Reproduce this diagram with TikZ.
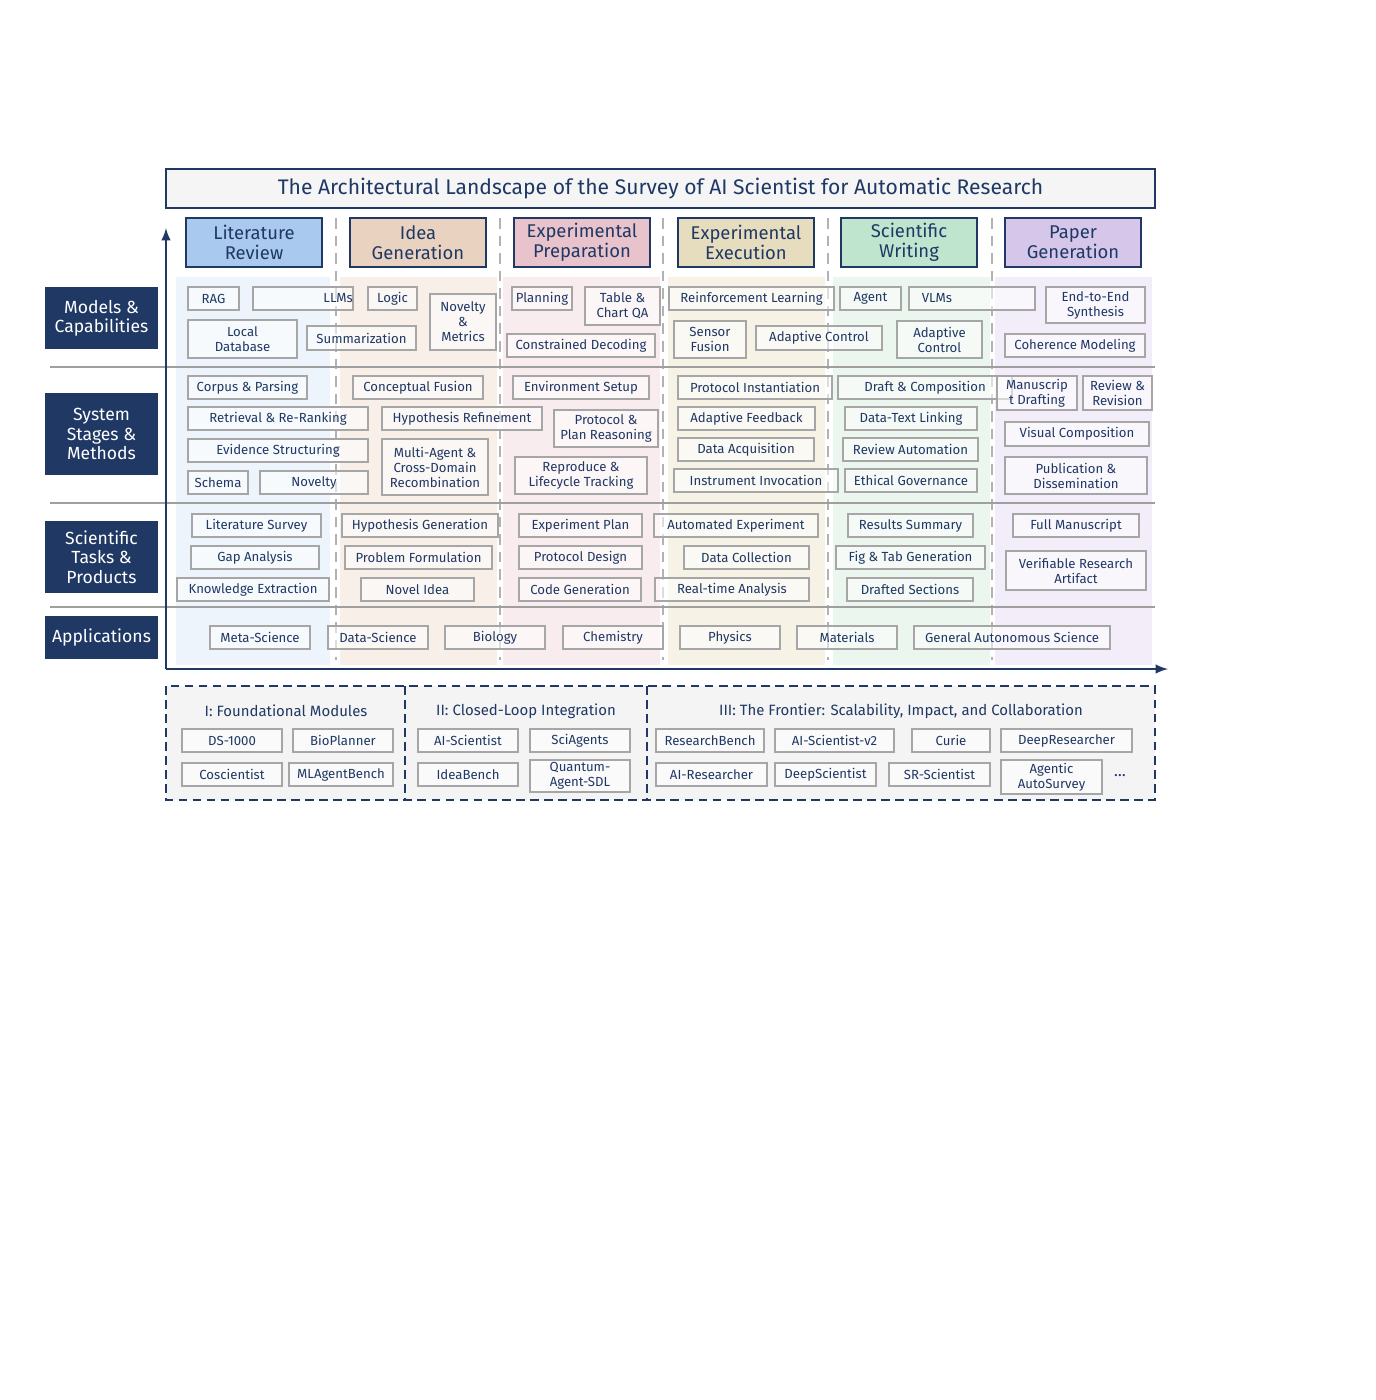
\documentclass[tikz,border=0pt]{standalone}
\usepackage{fontspec}
\setmainfont{Fira Sans}
\definecolor{navy}{HTML}{1F3864}
\definecolor{hdLR}{HTML}{A9C9EE}
\definecolor{hdIG}{HTML}{E9D2BF}
\definecolor{hdEP}{HTML}{E9C3CB}
\definecolor{hdEE}{HTML}{E6DDBE}
\definecolor{hdSW}{HTML}{BFE5CF}
\definecolor{hdPG}{HTML}{D6C7EA}
\definecolor{bgLR}{HTML}{EEF4FB}
\definecolor{bgIG}{HTML}{F8EFE9}
\definecolor{bgEP}{HTML}{F9ECEF}
\definecolor{bgEE}{HTML}{F6F2E6}
\definecolor{bgSW}{HTML}{EBF6EF}
\definecolor{bgPG}{HTML}{F2EDF9}
\tikzset{
  box/.style={draw=gray!70, line width=0.8pt, fill=white, fill opacity=0.55, text opacity=1,
    text=navy, inner sep=0pt, align=center, font=\fontsize{7.5}{8.5}\selectfont},
  head/.style={draw=navy, line width=1.2pt, text=navy, inner sep=0pt, align=center,
    font=\fontsize{10.5}{11.5}\selectfont},
  rowlab/.style={fill=navy, text=white, inner sep=0pt, align=center,
    font=\fontsize{10}{11}\selectfont},
  sep/.style={gray!60, line width=1.6pt, dash pattern=on 6pt off 4pt},
  rule/.style={gray!75, line width=1.6pt},
}
\begin{document}
\begin{tikzpicture}[x=0.02cm, y=-0.02cm]
\useasboundingbox (0,0) rectangle (1376,1400);
% column backgrounds
\foreach \xa/\xb/\c in {176/330/bgLR,340/497/bgIG,503/660/bgEP,668/825/bgEE,833/990/bgSW,995/1152/bgPG}
  \fill[\c] (\xa,277) rectangle (\xb,665);
% title
\node[draw=navy, line width=1.2pt, fill=gray!8, text=navy, minimum width=19.78cm, minimum height=0.78cm,
  font=\fontsize{12}{13}\selectfont] (title) at (660.5,188.5) {The Architectural Landscape of the Survey of AI Scientist for Automatic Research};
% stage headers
\foreach \xa/\c/\t [count=\i] in {186/hdLR/{Literature\\Review},350/hdIG/{Idea\\Generation},514/hdEP/{Experimental\\Preparation},
  678/hdEE/{Experimental\\Execution},841/hdSW/{Scientific\\Writing},1005/hdPG/{Paper\\Generation}}
  \node[head, fill=\c, minimum width=2.72cm, minimum height=0.98cm] (h\i) at (\xa+68,242.5) {\t};
% separators
\foreach \x in {336,500,663,828,992}
  \draw[sep] (\x,218) -- (\x,660);
\foreach \y in {367,503,607}
  \draw[rule] (50,\y) -- (1155,\y);
% axes
\draw[navy, line width=1.4pt, -latex] (166,669) -- (166,228);
\draw[navy, line width=1.4pt, -latex] (166,669) -- (1168,669);
% row labels
\node[rowlab, minimum width=2.26cm, minimum height=1.24cm] (r1) at (101.5,318) {Models \&\\Capabilities};
\node[rowlab, minimum width=2.26cm, minimum height=1.64cm] (r2) at (101.5,434) {System\\Stages \&\\Methods};
\node[rowlab, minimum width=2.26cm, minimum height=1.44cm] (r3) at (101.5,557) {Scientific\\Tasks \&\\Products};
\node[rowlab, minimum width=2.26cm, minimum height=0.86cm] (r4) at (101.5,637.5) {Applications};
% bottom panel
\draw[navy, line width=1.2pt, dash pattern=on 5pt off 3pt, fill=gray!9] (166,686) rectangle (1155,800);
\foreach \x in {405,647}
  \draw[navy, line width=1.2pt, dash pattern=on 5pt off 3pt] (\x,686) -- (\x,800);
\node[text=navy, font=\fontsize{8.5}{9.5}\selectfont] (s1) at (286,711) {I: Foundational Modules};
\node[text=navy, font=\fontsize{8.5}{9.5}\selectfont] (s2) at (526,711) {II: Closed-Loop Integration};
\node[text=navy, font=\fontsize{8.5}{9.5}\selectfont] (s3) at (901,711) {III: The Frontier: Scalability, Impact, and Collaboration};
\node[text=navy, font=\fontsize{9}{10}\selectfont] (more) at (1120,776) {\dots};
% boxes: x1/y1/x2/y2/text
\foreach \xa/\ya/\xb/\yb/\t [count=\i] in {
  188/287/239/310/RAG, 254/287/352/310/{\hspace*{40pt}LLMs}, 368/287/417/310/Logic, 430/294/496/350/{Novelty\\\&\\Metrics},
  512/287/572/310/Planning, 585/287/660/325/{Table \&\\Chart QA}, 188/320/297/358/{Local\\Database},
  307/326/416/350/Summarization, 507/334/655/357/{Constrained Decoding}, 669/287/834/310/{Reinforcement Learning},
  674/321/746/358/{Sensor\\Fusion}, 756/326/882/350/{Adaptive Control}, 840/287/901/310/Agent,
  909/287/1035/310/{\hspace*{0pt}VLMs\hspace*{40pt}}, 897/321/982/358/{Adaptive\\Control},
  1046/287/1145/323/{End-to-End\\Synthesis}, 1005/334/1145/357/{Coherence Modeling},
  188/376/307/399/{Corpus \& Parsing}, 353/376/483/399/{Conceptual Fusion}, 513/376/649/399/{Environment Setup},
  678/376/832/399/{Protocol Instantiation}, 838/376/1012/399/{Draft \& Composition},
  997/376/1077/410/{Manuscrip\\t Drafting}, 1083/376/1152/410/{Review \&\\Revision},
  188/407/368/430/{Retrieval \& Re-Ranking}, 382/407/542/430/{Hypothesis Refinement},
  554/410/658/447/{Protocol \&\\Plan Reasoning}, 678/407/815/430/{Adaptive Feedback},
  845/407/977/430/{Data-Text Linking}, 1005/422/1149/446/{Visual Composition},
  188/439/368/462/{Evidence Structuring}, 382/439/488/495/{Multi-Agent \&\\Cross-Domain\\Recombination},
  678/438/814/461/{Data Acquisition}, 843/438/978/461/{Review Automation},
  1005/457/1147/494/{Publication \&\\Dissemination}, 188/471/248/494/Schema, 260/471/368/494/Novelty,
  515/457/647/494/{Reproduce \&\\Lifecycle Tracking}, 674/469/838/492/{Instrument Invocation},
  845/469/977/492/{Ethical Governance},
  192/514/321/537/{Literature Survey}, 342/514/498/537/{Hypothesis Generation}, 519/514/642/537/{Experiment Plan},
  654/514/818/537/{Automated Experiment}, 848/514/973/537/{Results Summary}, 1013/514/1139/537/{Full Manuscript},
  191/546/319/569/{Gap Analysis}, 345/546/492/569/{Problem Formulation}, 519/546/642/569/{Protocol Design},
  684/546/809/569/{Data Collection}, 836/546/985/569/{Fig \& Tab Generation},
  1006/551/1146/590/{Verifiable Research\\Artifact}, 177/578/329/601/{Knowledge Extraction},
  361/578/474/601/{Novel Idea}, 519/578/641/601/{Code Generation}, 655/578/809/601/{Real-time Analysis},
  847/578/973/601/{Drafted Sections},
  210/626/310/649/Meta-Science, 328/626/428/649/Data-Science, 445/626/545/649/Biology,
  563/626/663/649/Chemistry, 680/626/780/649/Physics, 797/626/897/649/Materials,
  914/626/1110/649/{General Autonomous Science},
  182/729/282/752/DS-1000, 293/729/393/752/BioPlanner, 418/729/518/752/AI-Scientist, 530/729/630/752/SciAgents,
  656/729/764/752/ResearchBench, 775/729/894/752/AI-Scientist-v2, 912/729/990/752/Curie,
  1001/729/1132/752/DeepResearcher,
  182/763/282/786/Coscientist, 289/763/393/786/MLAgentBench, 418/763/518/786/IdeaBench,
  530/760/630/792/{Quantum-\\Agent-SDL}, 656/763/767/786/AI-Researcher, 775/763/876/786/DeepScientist,
  889/763/990/786/SR-Scientist, 1001/760/1102/794/{Agentic\\AutoSurvey}}
  \node[box, minimum width={(\xb-\xa)*0.02cm}, minimum height={(\yb-\ya)*0.02cm}] (b\i)
    at ({(\xa+\xb)/2},{(\ya+\yb)/2}) {\t};
\end{tikzpicture}
\end{document}
